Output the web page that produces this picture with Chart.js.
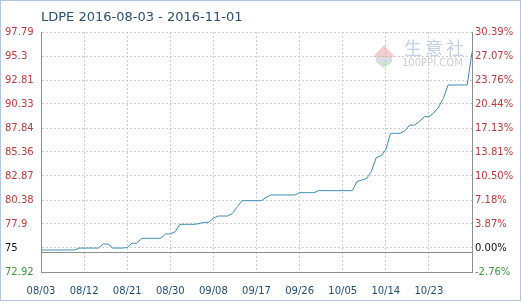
<!DOCTYPE html>
<html><head><meta charset="utf-8">
<script src="https://cdn.jsdelivr.net/npm/chart.js@4/dist/chart.umd.min.js"></script>
<style>html,body{margin:0;padding:0;background:#fff;}</style>
</head><body>
<canvas id="c" width="522" height="303"></canvas>
<script>
const titleText = 'LDPE 2016-08-03 - 2016-11-01';
const startDate = [2016, 7, 3];
const dayCount = 91;
const baseValue = 75;
const prices = [
  75.2, 75.2, 75.2, 75.2, 75.2, 75.2, 75.2, 75.2,
  75.4, 75.4, 75.4, 75.4, 75.4,
  75.82, 75.82,
  75.4, 75.4, 75.4, 75.45,
  75.9, 75.9,
  76.41, 76.41, 76.41, 76.41, 76.41,
  76.86, 76.86, 77.1,
  77.86, 77.86, 77.86, 77.86, 77.93,
  78.07, 78.07, 78.5,
  78.72, 78.72, 78.72, 79.0, 79.69,
  80.31, 80.31, 80.31, 80.31, 80.31, 80.65,
  80.9, 80.9, 80.9, 80.9, 80.9, 80.9,
  81.14, 81.14, 81.14, 81.14,
  81.35, 81.35, 81.35, 81.35, 81.35, 81.35, 81.35, 81.35,
  82.3, 82.45, 82.6, 83.35, 84.77, 84.95, 85.6,
  87.29, 87.29, 87.29, 87.55,
  88.15, 88.15, 88.5,
  89.01, 89.01, 89.4, 89.99, 90.9,
  92.3, 92.3, 92.3, 92.3, 92.3,
  95.7
];
const yMin = 72.92, yMax = 97.79;
const yTicks = [72.92, 75.41, 77.9, 80.38, 82.87, 85.36, 87.84, 90.33, 92.81, 95.3, 97.79];
const leftTickLabels = ['72.92', '75', '77.9', '80.38', '82.87', '85.36', '87.84', '90.33', '92.81', '95.3', '97.79'];
const rightTickLabels = ['-2.76%', '0.00%', '3.87%', '7.18%', '10.50%', '13.81%', '17.13%', '20.44%', '23.76%', '27.07%', '30.39%'];
const xLabelStep = 9;

const categories = [];
for (let i = 0; i < dayCount; i++) {
  const d = new Date(startDate[0], startDate[1], startDate[2] + i);
  categories.push(String(d.getMonth() + 1).padStart(2, '0') + '/' + String(d.getDate()).padStart(2, '0'));
}

const FONT = 'DejaVu Sans';
const RED = '#c23b3b', GREEN = '#3f9a3f', BLACK = '#111111', NAVY = '#1f4d7a';
const GRID = '#cccccc', AXIS = '#8e8e8e';
const tickColor = (ctx) => ctx.index === 0 ? GREEN : (ctx.index === 1 ? BLACK : RED);

const decor = {
  id: 'decor',
  beforeDatasetsDraw(chart) {
    const ctx = chart.ctx;
    const y = chart.scales.y;
    const a = chart.chartArea;
    ctx.save();
    ctx.globalAlpha = 0.55;
    ctx.fillStyle = '#eaa6a6';
    ctx.beginPath(); ctx.moveTo(373, 57); ctx.lineTo(384, 45); ctx.lineTo(395, 57); ctx.closePath(); ctx.fill();
    ctx.fillStyle = '#b9c3cf';
    ctx.fillRect(376, 57, 16, 5);
    ctx.fillStyle = '#9fd09f';
    ctx.beginPath(); ctx.moveTo(376, 62); ctx.lineTo(392, 62); ctx.lineTo(384, 68); ctx.closePath(); ctx.fill();
    ctx.globalAlpha = 1;
    ctx.fillStyle = '#c3d1e3';
    ctx.font = '18px "Noto Sans CJK SC"';
    ctx.textBaseline = 'middle';
    ctx.textAlign = 'left';
    ['生', '意', '社'].forEach((ch, i) => ctx.fillText(ch, 404 + i * 21, 48));
    ctx.fillStyle = '#cdcdcd';
    ctx.font = '10px ' + FONT;
    ctx.fillText('100PPI.COM', 402, 63);
    const py = Math.round(y.getPixelForValue(baseValue)) + 0.5;
    ctx.strokeStyle = AXIS;
    ctx.lineWidth = 1;
    ctx.beginPath(); ctx.moveTo(a.left, py); ctx.lineTo(a.right, py); ctx.stroke();
    ctx.restore();
  },
  afterDraw(chart) {
    const ctx = chart.ctx;
    ctx.save();
    ctx.fillStyle = '#2a5077';
    ctx.font = '13px ' + FONT;
    ctx.textBaseline = 'middle';
    ctx.textAlign = 'left';
    ctx.fillText(titleText, 41, 18);
    ctx.strokeStyle = '#b3c5e3';
    ctx.lineWidth = 1;
    ctx.strokeRect(0.5, 0.5, 520, 300);
    ctx.restore();
  }
};

new Chart(document.getElementById('c'), {
  type: 'line',
  data: {
    labels: categories,
    datasets: [{
      data: prices,
      borderColor: '#3b8db3',
      borderWidth: 1,
      pointRadius: 0,
      tension: 0,
      fill: false,
      yAxisID: 'y'
    }]
  },
  options: {
    responsive: false,
    animation: false,
    devicePixelRatio: 1,
    layout: { padding: { top: 32, left: 5, right: 0, bottom: 0 } },
    plugins: { legend: { display: false }, tooltip: { enabled: false }, title: { display: false } },
    scales: {
      x: {
        type: 'category',
        offset: false,
        grid: { color: GRID, drawTicks: false },
        border: { color: AXIS, dash: [2, 2] },
        ticks: { autoSkip: false, maxRotation: 0, minRotation: 0, padding: 13, color: NAVY, font: { family: FONT, size: 10 } },
        afterBuildTicks: (s) => { s.ticks = s.ticks.filter(t => t.value % xLabelStep === 0 && t.value < dayCount - 1); },
        afterFit: (s) => { s.height = 31; }
      },
      y: {
        position: 'left',
        min: yMin, max: yMax,
        grid: { color: GRID, drawTicks: false },
        border: { color: AXIS, dash: [2, 2] },
        ticks: { crossAlign: 'far', padding: 4, color: tickColor, font: { family: FONT, size: 10 }, callback: (v, i) => leftTickLabels[i] },
        afterBuildTicks: (s) => { s.ticks = yTicks.map(v => ({ value: v })); },
        afterFit: (s) => { s.width = 36; }
      },
      y2: {
        position: 'right',
        min: yMin, max: yMax,
        grid: { drawOnChartArea: false, drawTicks: false },
        border: { color: AXIS },
        ticks: { padding: 3, color: tickColor, font: { family: FONT, size: 10 }, callback: (v, i) => rightTickLabels[i] },
        afterBuildTicks: (s) => { s.ticks = yTicks.map(v => ({ value: v })); },
        afterFit: (s) => { s.width = 50; }
      }
    }
  },
  plugins: [decor]
});
</script>
</body></html>
